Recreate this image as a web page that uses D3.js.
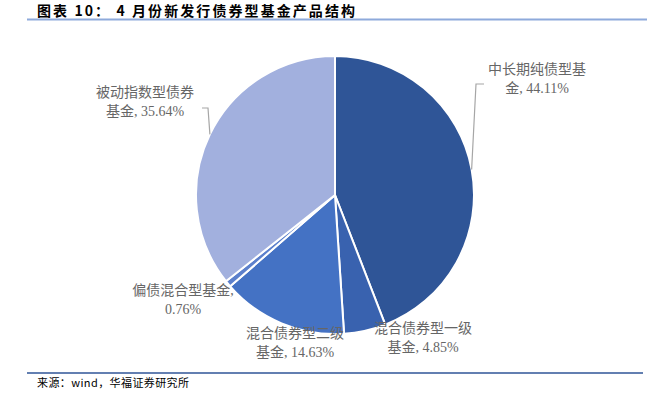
<!DOCTYPE html>
<html>
<head>
<meta charset="utf-8">
<script src="https://cdn.jsdelivr.net/npm/d3@7"></script>
<style>
  body { margin: 0; background: #fff; }
  svg { display: block; }
</style>
</head>
<body>
<script>
// data
const categories = ["中长期纯债型基金", "混合债券型一级基金", "混合债券型二级基金", "偏债混合型基金", "被动指数型债券基金"];
const values = [44.11, 4.85, 14.63, 0.76, 35.64];
// label text, two lines each
const labelLines = [
	["中长期纯债型基", "金, 44.11%"],
	["混合债券型一级", "基金, 4.85%"],
	["混合债券型二级", "基金, 14.63%"],
	["偏债混合型基金,", "0.76%"],
	["被动指数型债券", "基金, 35.64%"]
];
const colors = ["#2f5597", "#3962af", "#4472c4", "#5c80cc", "#a2b0de"];

const width = 647, height = 399;
const cx = 335, cy = 195, radius = 139;

// label layout (offsets from centre), leader elbows where drawn
const labelLayout = [
	{ x: 202, y: -121, leader: [[141, -111], [149, -111]] },
	{ x: 88, y: 138, leader: null },
	{ x: -40, y: 143, leader: null },
	{ x: -152, y: 100, leader: null },
	{ x: -190, y: -98, leader: [[-127, -87], [-133, -87]] }
];

const svg = d3.select("body").append("svg")
	.attr("width", width)
	.attr("height", height);

// title
svg.append("text")
	.attr("x", 37)
	.attr("y", 16)
	.attr("font-family", "'Noto Sans CJK SC', sans-serif")
	.attr("font-size", 14)
	.attr("font-weight", "bold")
	.attr("fill", "#000")
	.attr("textLength", 318)
	.attr("lengthAdjust", "spacing")
	.text("图表 10： 4 月份新发行债券型基金产品结构");

svg.append("line")
	.attr("x1", 27).attr("x2", 647)
	.attr("y1", 19.5).attr("y2", 19.5)
	.attr("stroke", "#8eaadb")
	.attr("stroke-width", 2);

// pie
const pie = d3.pie().sort(null).value(d => d);
const arcs = pie(values);
const arc = d3.arc().innerRadius(0).outerRadius(radius);

const g = svg.append("g")
	.attr("transform", `translate(${cx},${cy})`);

g.selectAll("path")
	.data(arcs)
	.join("path")
	.attr("d", arc)
	.attr("fill", (d, i) => colors[i])
	.attr("stroke", "#fff")
	.attr("stroke-width", 2)
	.attr("stroke-linejoin", "round");

// leader lines
arcs.forEach((d, i) => {
	const lay = labelLayout[i];
	if (!lay.leader) return;
	const mid = (d.startAngle + d.endAngle) / 2;
	const start = [radius * Math.sin(mid), -radius * Math.cos(mid)];
	g.append("path")
		.attr("d", d3.line()([start, ...lay.leader]))
		.attr("fill", "none")
		.attr("stroke", "#a6a6a6")
		.attr("stroke-width", 1.2);
});

// labels
const labels = g.selectAll("text.label")
	.data(arcs)
	.join("text")
	.attr("class", "label")
	.attr("text-anchor", "middle")
	.attr("font-family", "'Liberation Serif', 'Noto Sans CJK SC', serif")
	.attr("font-size", 14)
	.attr("fill", "#666");

labels.each(function (d, i) {
	const lay = labelLayout[i];
	d3.select(this).selectAll("tspan")
		.data(labelLines[i])
		.join("tspan")
		.attr("x", lay.x)
		.attr("y", (t, j) => lay.y + j * 19)
		.text(t => t);
});

// source
svg.append("line")
	.attr("x1", 27).attr("x2", 643)
	.attr("y1", 373).attr("y2", 373)
	.attr("stroke", "#2f5597")
	.attr("stroke-width", 1.5);

svg.append("text")
	.attr("x", 37)
	.attr("y", 387)
	.attr("font-family", "'Noto Sans CJK SC', sans-serif")
	.attr("font-size", 11)
	.attr("fill", "#000")
	.attr("textLength", 152)
	.attr("lengthAdjust", "spacing")
	.text("来源：wind，华福证券研究所");
</script>
</body>
</html>
